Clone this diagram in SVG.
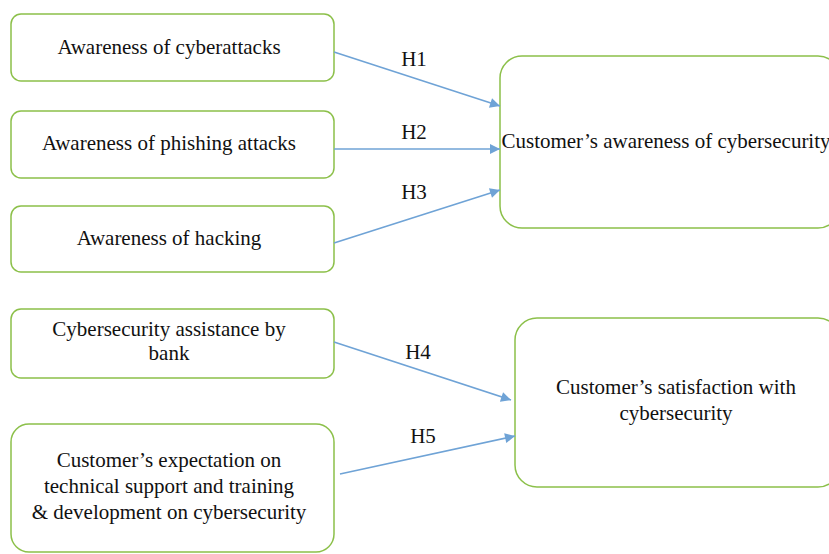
<svg xmlns="http://www.w3.org/2000/svg" width="829" height="554" viewBox="0 0 829 554">
<style>
.box{fill:#fff;stroke:#8cc04a;stroke-width:1.5}
.t{font-family:"Liberation Serif","Times New Roman",serif;font-size:21px;fill:#111;text-anchor:middle}
.c{stroke:#6fa3d6;stroke-width:1.6;fill:none;marker-end:url(#ah)}
</style>
<defs>
<marker id="ah" viewBox="0 0 10 10" refX="10" refY="5" markerWidth="11" markerHeight="10" markerUnits="userSpaceOnUse" orient="auto"><path d="M0,0L10,5L0,10z" fill="#6fa3d6"/></marker>
</defs>
<rect width="829" height="554" fill="#fff"/>
<g id="n1"><rect class="box" x="11" y="14" width="323" height="67" rx="10"/><text class="t" x="169" y="54">Awareness of cyberattacks</text></g>
<g id="n2"><rect class="box" x="11" y="111" width="323" height="67" rx="10"/><text class="t" x="169" y="150">Awareness of phishing attacks</text></g>
<g id="n3"><rect class="box" x="11" y="206" width="323" height="66" rx="10"/><text class="t" x="169" y="245">Awareness of hacking</text></g>
<g id="n4"><rect class="box" x="11" y="309" width="323" height="69" rx="10"/><text class="t" x="169" y="336">Cybersecurity assistance by</text><text class="t" x="169" y="360">bank</text></g>
<g id="n5"><rect class="box" x="11" y="424" width="323" height="128" rx="18"/><text class="t" x="169" y="467">Customer’s expectation on</text><text class="t" x="169" y="493">technical support and training</text><text class="t" x="169" y="519">&amp; development on cybersecurity</text></g>
<g id="n6"><rect class="box" x="500" y="56" width="340" height="172" rx="22"/><text class="t" x="666" y="148">Customer’s awareness of cybersecurity</text></g>
<g id="n7"><rect class="box" x="515" y="318" width="325" height="169" rx="22"/><text class="t" x="676" y="394">Customer’s satisfaction with</text><text class="t" x="676" y="420">cybersecurity</text></g>
<g id="connectors">
<line class="c" x1="334" y1="52" x2="500" y2="106"/>
<line class="c" x1="334" y1="149" x2="500" y2="149"/>
<line class="c" x1="334" y1="243" x2="500" y2="190"/>
<line class="c" x1="334" y1="342" x2="511" y2="400"/>
<line class="c" x1="340" y1="474" x2="515" y2="436"/>
<text class="t" x="414" y="66">H1</text>
<text class="t" x="414" y="139">H2</text>
<text class="t" x="414" y="199">H3</text>
<text class="t" x="418" y="359">H4</text>
<text class="t" x="423" y="443">H5</text>
</g>
</svg>
